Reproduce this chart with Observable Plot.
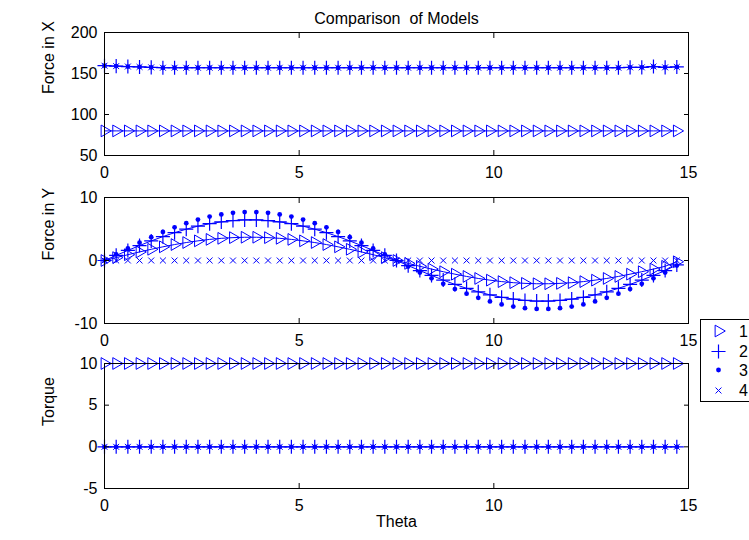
<!DOCTYPE html>
<html><head><meta charset="utf-8">
<script src="https://cdn.jsdelivr.net/npm/d3@7"></script>
<script src="https://cdn.jsdelivr.net/npm/@observablehq/plot@0.6"></script>
<style>
html,body{margin:0;padding:0;background:#fff;overflow:hidden;}
#chart{position:relative;width:749px;height:540px;font-family:"Liberation Sans",Arial,sans-serif;background:#fff;}
#chart svg.panel{position:absolute;left:0;}
#legend{position:absolute;left:700px;top:319px;width:60px;height:83px;border:1px solid #000;box-sizing:border-box;background:#fff;}
#legend svg{position:absolute;left:0;top:0;overflow:visible;}
</style></head><body><div id="chart"></div>
<script>
const title = "Comparison\u00a0 of Models";
const xLabel = "Theta";
const xTicks = [0, 5, 10, 15];
const seriesNames = ["1", "2", "3", "4"];

const theta = [0,0.3,0.6,0.9,1.2,1.5,1.8,2.1,2.4,2.7,3,3.3,3.6,3.9,4.2,4.5,4.8,5.1,5.4,5.7,6,6.3,6.6,6.9,7.2,7.5,7.8,8.1,8.4,8.7,9,9.3,9.6,9.9,10.2,10.5,10.8,11.1,11.4,11.7,12,12.3,12.6,12.9,13.2,13.5,13.8,14.1,14.4,14.7];

// Force in X
const fx1 = [80,80,80,80,80,80,80,80,80,80,80,80,80,80,80,80,80,80,80,80,80,80,80,80,80,80,80,80,80,80,80,80,80,80,80,80,80,80,80,80,80,80,80,80,80,80,80,80,80,80];
const fx2 = [159.5,159,158.5,158,157.5,157,157,157,157,157,157,157,157,157,157,157,157,157,157,157,157,157,157,157,157,157,157,157,157,157,157,157,157,157,157,157,157,157,157,157,157,157,157,157,157,157.5,157.5,158.5,157.5,158];
const fx3 = [159.5,159,158.5,158,157.5,157,157,157,157,157,157,157,157,157,157,157,157,157,157,157,157,157,157,157,157,157,157,157,157,157,157,157,157,157,157,157,157,157,157,157,157,157,157,157,157,157.5,157.5,158.5,157.5,158];
const fx4 = [159.5,159,158.5,158,157.5,157,157,157,157,157,157,157,157,157,157,157,157,157,157,157,157,157,157,157,157,157,157,157,157,157,157,157,157,157,157,157,157,157,157,157,157,157,157,157,157,157.5,157.5,158.5,157.5,158];

// Force in Y
const fy1 = [0,0.46,0.92,1.36,1.78,2.17,2.53,2.85,3.12,3.35,3.52,3.63,3.69,3.69,3.63,3.52,3.35,3.12,2.85,2.53,2.17,1.78,1.36,0.92,0.46,0,-0.46,-0.92,-1.36,-1.78,-2.17,-2.53,-2.85,-3.12,-3.35,-3.52,-3.63,-3.69,-3.69,-3.63,-3.52,-3.35,-3.12,-2.85,-2.53,-2.17,-1.78,-1.36,-0.92,-0.2];
const fy2 = [0,0.81,1.6,2.37,3.11,3.79,4.42,4.97,5.45,5.84,6.13,6.34,6.44,6.44,6.34,6.13,5.84,5.45,4.97,4.42,3.79,3.11,2.37,1.6,0.81,0,-0.81,-1.6,-2.37,-3.11,-3.79,-4.42,-4.97,-5.45,-5.84,-6.13,-6.34,-6.44,-6.44,-6.34,-6.13,-5.84,-5.45,-4.97,-4.42,-3.79,-3.11,-2.37,-1.6,-0.7];
const fy3 = [0,0.96,1.92,2.83,3.71,4.53,5.27,5.93,6.5,6.97,7.32,7.56,7.68,7.68,7.56,7.32,6.97,6.5,5.93,5.27,4.53,3.71,2.83,1.92,0.96,0,-0.96,-1.92,-2.83,-3.71,-4.53,-5.27,-5.93,-6.5,-6.97,-7.32,-7.56,-7.68,-7.68,-7.56,-7.32,-6.97,-6.5,-5.93,-5.27,-4.53,-3.71,-2.83,-1.92,-0.8];
const fy4 = [0,0,0,0,0,0,0,0,0,0,0,0,0,0,0,0,0,0,0,0,0,0,0,0,0,0,0,0,0,0,0,0,0,0,0,0,0,0,0,0,0,0,0,0,0,0,0,0,0,0];

// Torque
const tq1 = [10,10,10,10,10,10,10,10,10,10,10,10,10,10,10,10,10,10,10,10,10,10,10,10,10,10,10,10,10,10,10,10,10,10,10,10,10,10,10,10,10,10,10,10,10,10,10,10,10,10];
const tq2 = [0,0,0,0,0,0,0,0,0,0,0,0,0,0,0,0,0,0,0,0,0,0,0,0,0,0,0,0,0,0,0,0,0,0,0,0,0,0,0,0,0,0,0,0,0,0,0,0,0,0];
const tq3 = [0,0,0,0,0,0,0,0,0,0,0,0,0,0,0,0,0,0,0,0,0,0,0,0,0,0,0,0,0,0,0,0,0,0,0,0,0,0,0,0,0,0,0,0,0,0,0,0,0,0];
const tq4 = [0,0,0,0,0,0,0,0,0,0,0,0,0,0,0,0,0,0,0,0,0,0,0,0,0,0,0,0,0,0,0,0,0,0,0,0,0,0,0,0,0,0,0,0,0,0,0,0,0,0];

const fxTicks = [50, 100, 150, 200];
const fyTicks = [-10, 0, 10];
const tqTicks = [-5, 0, 5, 10];

const BLUE = "#0000ff";
// series 1 and 2 are drawn with a connecting line, 3 and 4 as markers only
const hasLine = [true, true, false, false];
const styles = [
  {symbol: "triangle2", rotate: 90, r: 5.6, fill: "none", stroke: BLUE, strokeWidth: 1},
  {symbol: "plus", r: 4.6, fill: "none", stroke: BLUE, strokeWidth: 1.2},
  {symbol: "circle", r: 2.4, fill: BLUE, stroke: "none"},
  {symbol: "times", r: 2.8, fill: "none", stroke: BLUE, strokeWidth: 1}
];

const panels = [
  {label: "Force in X", domain: [50, 200], ticks: fxTicks, series: [fx1, fx2, fx3, fx4], top: 0, height: 180, mt: 32, mb: 25, title: true},
  {label: "Force in Y", domain: [-10, 10], ticks: fyTicks, series: [fy1, fy2, fy3, fy4], top: 180, height: 160, mt: 17, mb: 17},
  {label: "Torque", domain: [-5, 10], ticks: tqTicks, series: [tq1, tq2, tq3, tq4], top: 340, height: 200, mt: 23, mb: 52, xlabel: true}
];

const chart = document.getElementById("chart");
const fmt = d => String(d);

for (const p of panels) {
  const rows = p.series.flatMap((arr, s) => arr.map((v, i) => ({theta: theta[i], value: v, series: seriesNames[s]})));
  const lineRows = rows.filter(d => hasLine[seriesNames.indexOf(d.series)]);
  const marks = [
    Plot.line(lineRows, {x: "theta", y: "value", z: "series", stroke: BLUE, strokeWidth: 1}),
    ...styles.map((st, s) => Plot.dot(rows.filter(d => d.series === seriesNames[s]), {x: "theta", y: "value", ...st})),
    Plot.frame({stroke: "#000", strokeWidth: 1}),
    Plot.axisX({anchor: "bottom", ticks: xTicks, tickSize: -5, tickPadding: 16, tickFormat: fmt, label: null, fill: "#000"}),
    Plot.axisX({anchor: "top", ticks: xTicks, tickSize: -5, tickFormat: () => "", label: null}),
    Plot.axisY({anchor: "left", ticks: p.ticks, tickSize: -5, tickPadding: 12, tickFormat: fmt, label: null, fill: "#000"}),
    Plot.axisY({anchor: "right", ticks: p.ticks, tickSize: -5, tickFormat: () => "", label: null}),
    Plot.text([p.label], {frameAnchor: "left", dx: -56, rotate: -90, text: d => d, fill: "#000"})
  ];
  if (p.title) marks.push(Plot.text([title], {frameAnchor: "top", dy: -20, text: d => d, fill: "#000"}));
  if (p.xlabel) marks.push(Plot.text([xLabel], {frameAnchor: "bottom", dy: 38, text: d => d, fill: "#000"}));
  const svg = Plot.plot({
    width: 749,
    height: p.height,
    marginLeft: 104,
    marginRight: 61,
    marginTop: p.mt,
    marginBottom: p.mb,
    x: {domain: [0, 15]},
    y: {domain: p.domain},
    style: {fontSize: "16px", fontFamily: "'Liberation Sans', Arial, sans-serif", background: "transparent", overflow: "visible", color: "#000"},
    marks
  });
  svg.classList.add("panel");
  svg.style.top = p.top + "px";
  chart.appendChild(svg);
}

// legend
const legend = d3.select("#chart").append("div").attr("id", "legend");
const lsvg = legend.append("svg").attr("width", 60).attr("height", 83)
  .style("font-family", "'Liberation Sans', Arial, sans-serif").style("font-size", "16px");
const symbolTypes = {triangle2: d3.symbolTriangle2, plus: d3.symbolPlus, circle: d3.symbolCircle, times: d3.symbolTimes};
const rowY = [11, 31.5, 50, 70.5];
seriesNames.forEach((name, i) => {
  const st = styles[i];
  const g = lsvg.append("g").attr("transform", `translate(17.5,${rowY[i]})`);
  g.append("path")
    .attr("d", d3.symbol(symbolTypes[st.symbol], st.r * st.r * Math.PI)())
    .attr("transform", st.rotate ? `rotate(${st.rotate})` : null)
    .attr("fill", st.fill).attr("stroke", st.stroke).attr("stroke-width", st.strokeWidth || 1);
  lsvg.append("text").attr("x", 38).attr("y", rowY[i]).attr("dy", "0.35em").text(name);
});
</script></body></html>
